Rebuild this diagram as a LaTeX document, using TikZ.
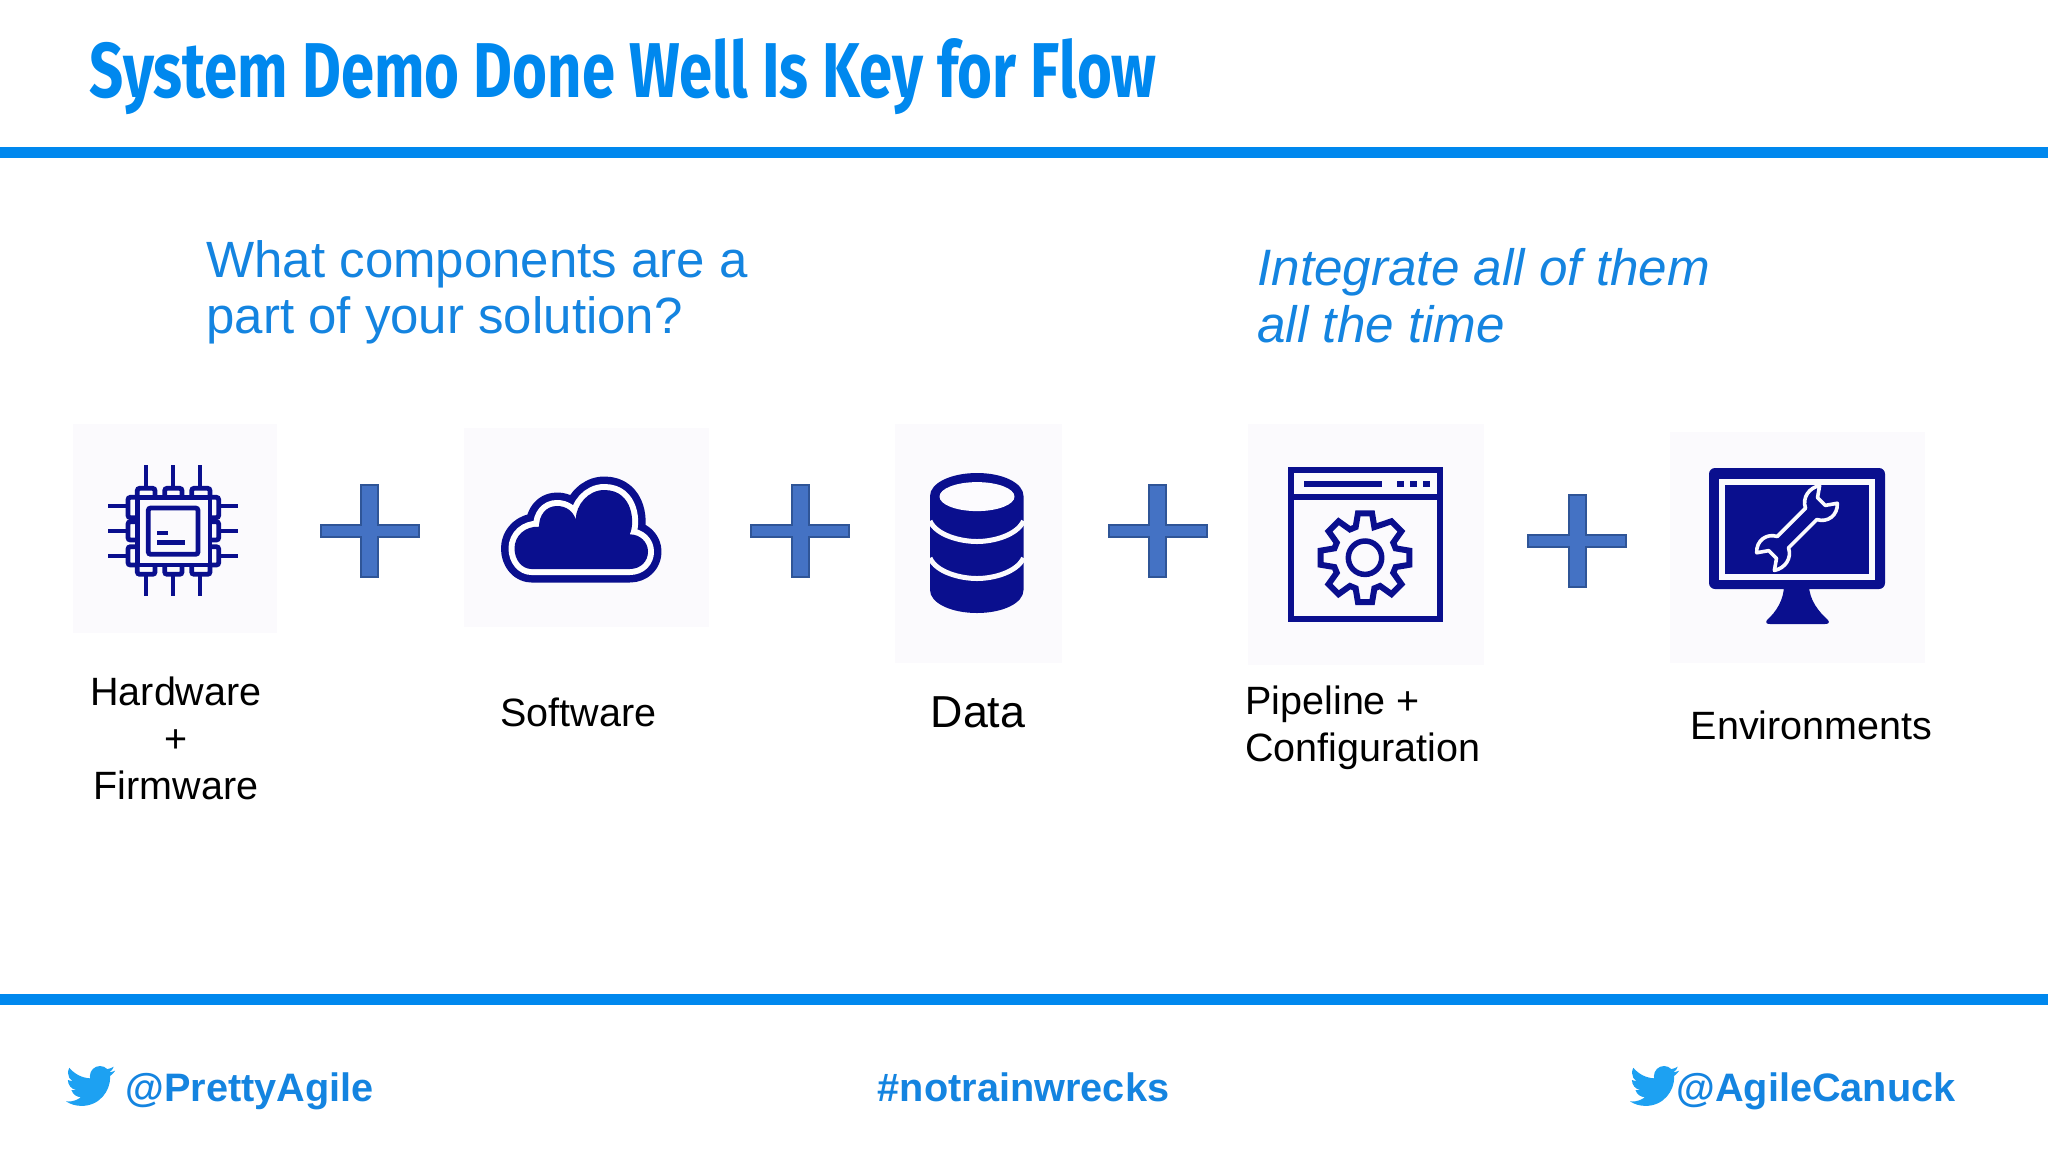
\documentclass[tikz,border=0pt]{standalone}
\usepackage{fontspec}
\setmainfont{Liberation Sans}
\newfontfamily\titlefont{Fira Sans}
\usetikzlibrary{calc}
\definecolor{barblue}{HTML}{0088EE}
\definecolor{textblue}{HTML}{1484E0}
\definecolor{navy}{HTML}{0A0F8E}
\definecolor{tilec}{HTML}{FBFAFD}
\definecolor{plusfill}{HTML}{4472C4}
\definecolor{plusline}{HTML}{2F5597}
\definecolor{birdc}{HTML}{1DA1F2}
\tikzset{
  x=0.5pt,y=-0.5pt,
  bar/.style={fill=barblue,draw=none},
  tile/.style={fill=tilec,draw=none},
  chipline/.style={draw=navy,line width=2.4pt,rounded corners=1.2pt},
  pin/.style={draw=navy,line width=2.4pt},
  toptext/.style={font=\fontsize{25.5}{28}\selectfont,text=textblue,anchor=base west,inner sep=0pt,align=left},
  ittext/.style={font=\fontsize{25.6}{28.5}\selectfont\itshape,text=textblue,anchor=base west,inner sep=0pt,align=left},
  lbl/.style={font=\fontsize{19.75}{23.5}\selectfont,text=black,anchor=base,inner sep=0pt,align=center},
  foot/.style={font=\fontsize{19.85}{24}\selectfont\bfseries,text=textblue,anchor=base west,inner sep=0pt},
  bird/.pic={
    \fill[birdc] (23.95,4.57) .. controls (23.05,4.97) and (22.1,5.23) .. (21.13,5.35)
      .. controls (22.15,4.73) and (22.92,3.77) .. (23.29,2.62)
      .. controls (22.34,3.18) and (21.29,3.58) .. (20.16,3.81)
      .. controls (19.26,2.86) and (17.98,2.28) .. (16.6,2.28)
      .. controls (13.87,2.28) and (11.66,4.49) .. (11.66,7.2)
      .. controls (11.66,7.59) and (11.7,7.95) .. (11.78,8.29)
      .. controls (7.69,8.095) and (4.067,6.13) .. (1.64,3.162)
      .. controls (1.22,3.88) and (0.974,4.73) .. (0.974,5.637)
      .. controls (0.974,7.347) and (1.844,8.85) .. (3.162,9.733)
      .. controls (2.35,9.71) and (1.6,9.48) .. (0.934,9.117)
      -- (0.934,9.177)
      .. controls (0.934,11.56) and (2.63,13.54) .. (4.88,14.0)
      .. controls (4.17,14.19) and (3.41,14.22) .. (2.668,14.085)
      .. controls (3.32,16.04) and (5.12,17.46) .. (7.272,17.502)
      .. controls (5.58,18.83) and (3.44,19.607) .. (1.17,19.607)
      .. controls (0.78,19.607) and (0.391,19.584) .. (0,19.54)
      .. controls (2.17,20.93) and (4.75,21.749) .. (7.557,21.749)
      .. controls (16.61,21.749) and (21.555,14.253) .. (21.555,7.764)
      .. controls (21.555,7.554) and (21.555,7.344) .. (21.54,7.134)
      .. controls (22.5,6.44) and (23.33,5.58) .. (24,4.59) -- cycle;
  },
  plusmark/.pic={
    \draw[fill=plusfill,draw=plusline,line width=1pt]
      (-8.5,-46) -- (8.5,-46) -- (8.5,-6) -- (49,-6) -- (49,6) -- (8.5,6)
      -- (8.5,46) -- (-8.5,46) -- (-8.5,6) -- (-49,6) -- (-49,-6) -- (-8.5,-6) -- cycle;
  }
}
\newcommand{\cloudpath}{(531.6,569) -- (629.6,569)
  .. controls (641,569) and (648,561) .. (648,551.7)
  .. controls (648,542) and (640,534.3) .. (629.6,534.3)
  .. controls (635,525) and (634,490) .. (604.3,490)
  .. controls (588,490) and (576,505) .. (575.7,519.3)
  .. controls (573,511) and (566,506) .. (557,506)
  .. controls (546,506) and (539,515) .. (539,526.7)
  .. controls (525,526) and (514.5,536) .. (514.5,548.3)
  .. controls (514.5,560) and (522,569) .. (531.6,569) -- cycle}
\begin{document}
\begin{tikzpicture}
\useasboundingbox (0,0) rectangle (2048,1152);
% bars
\fill[bar] (0,147) rectangle (2048,158);
\fill[bar] (0,994) rectangle (2048,1005);
% title
\node[anchor=base west,inner sep=0pt,text=barblue] (title) at (89,97)
  {\resizebox{533.5pt}{29.5pt}{\titlefont\fontseries{sb}\selectfont System Demo Done Well Is Key for Flow}};
% heading texts
\node[toptext] (question) at (206,333.5) {What components are a\\part of your solution?};
\node[ittext] (integrate) at (1257,342) {Integrate all of them\\all the time};
% tiles
\fill[tile] (73,424) rectangle (277,633);
\fill[tile] (464,428) rectangle (709,627);
\fill[tile] (895,424) rectangle (1062,663);
\fill[tile] (1248,424) rectangle (1484,665);
\fill[tile] (1670,432) rectangle (1925,663);
% chip
\foreach \v in {146,173,200}{
  \draw[pin] (\v,465) -- (\v,488);
  \draw[pin] (\v,574) -- (\v,596);
}
\foreach \v in {506,531,556}{
  \draw[pin] (108,\v) -- (128,\v);
  \draw[pin] (219,\v) -- (238,\v);
}
\foreach \a/\b in {137.3/155,164.7/182,191.7/210}{
  \draw[chipline] (\a,497.3) |- (\b,488.3) -- (\b,497.3);
  \draw[chipline] (\a,565) |- (\b,574.3) -- (\b,565);
}
\foreach \a/\b in {497.3/517.7,521.7/540,546.7/565}{
  \draw[chipline] (137.3,\a) -| (128,\b) -- (137.3,\b);
  \draw[chipline] (210,\a) -| (218.7,\b) -- (210,\b);
}
\draw[pin] (137.3,497.3) rectangle (210,565);
\draw[chipline] (148.3,508) rectangle (198,554.3);
\draw[pin] (157,533) -- (168,533);
\draw[pin] (157,542.3) -- (185,542.3);
% cloud
\draw[draw=navy,line width=13.5pt,line join=round] \cloudpath;
\draw[draw=white,line width=6pt,line join=round] \cloudpath;
\fill[navy] \cloudpath;
% database
\fill[navy] (930,496) .. controls (930,483) and (951,473) .. (977,473)
  .. controls (1003,473) and (1023.5,483) .. (1023.5,496) -- (1023.5,590)
  .. controls (1023.5,603) and (1003,613) .. (977,613)
  .. controls (951,613) and (930,603) .. (930,590) -- cycle;
\fill[tilec!70!white] (977,496.6) ellipse [x radius=37.5,y radius=14.5];
\draw[draw=tilec,line width=2.5pt]
  (930,521) .. controls (936,535) and (960,541.5) .. (977,541.5)
  .. controls (994,541.5) and (1017,535) .. (1023.5,521);
\draw[draw=tilec,line width=2.5pt]
  (930,558) .. controls (936,572) and (960,578.5) .. (977,578.5)
  .. controls (994,578.5) and (1017,572) .. (1023.5,558);
% window with gear
\draw[draw=navy,line width=3pt] (1291,470) rectangle (1440,619);
\draw[draw=navy,line width=3pt] (1291,497) -- (1440,497);
\fill[navy] (1304,481) rectangle (1382,487);
\foreach \a in {1397,1410,1423}{\fill[navy] (\a,481) rectangle +(7,6);}
\begin{scope}[shift={(1365,557.7)}]
  \draw[navy,line width=3pt,line join=miter]
    (-81:45) -- (-99:45)
    \foreach \t in {-135,-180,-225,-270,-315,-360,-405}{
      -- ({\t+45-17}:32) -- ({\t+17}:32) -- ({\t+9}:45) -- ({\t-9}:45)
    } -- (-73:32) -- cycle;
  \draw[navy,line width=2.75pt] (0,0) circle [radius=16.7];
\end{scope}
% monitor
\fill[navy,rounded corners=3pt] (1709,468) rectangle (1885,589);
\fill[navy] (1784,585) .. controls (1784,600) and (1776,612) .. (1767,620)
  .. controls (1765,623) and (1767,624) .. (1770,624) -- (1825,624)
  .. controls (1828,624) and (1830,623) .. (1828,620)
  .. controls (1819,612) and (1809,600) .. (1809,585) -- cycle;
\draw[draw=tilec,line width=3pt] (1722,482) rectangle (1872,576.5);
\begin{scope}[shift={(1797,528)},rotate=45]
  \draw[draw=tilec,line width=1.8pt,line join=round]
    (-20,-8) -- (20,-8) .. controls (25,-18) and (37,-20) .. (46,-14)
    -- (36,-7) -- (36,4) -- (46,11) .. controls (38,20) and (25,18) .. (20,8)
    -- (-20,8) .. controls (-25,18) and (-37,20) .. (-46,14)
    -- (-36,7) -- (-36,-4) -- (-46,-11) .. controls (-38,-20) and (-25,-18) .. (-20,-8) -- cycle;
\end{scope}
% plus signs
\pic at (369.5,531) {plusmark};
\pic at (800,531) {plusmark};
\pic at (1157.7,531) {plusmark};
\pic at (1577,541) {plusmark};
% labels
\node[lbl] (hardware) at (176,799) {Hardware\\+\\Firmware};
\node[lbl] (software) at (578.5,726) {Software};
\node[lbl,font=\fontsize{22.4}{26}\selectfont] (data) at (978,727.5) {Data};
\node[lbl,anchor=base west,align=left] (pipeline) at (1245,761) {Pipeline +\\Configuration};
\node[lbl] (environments) at (1811.5,739) {Environments};
% footer
\pic[scale=2.05] at (66,1061.3) {bird};
\pic[scale=2.05] at (1630,1061.3) {bird};
\node[foot] (prettyagile) at (125,1101) {@PrettyAgile};
\node[foot] (hash) at (877.5,1101) {\#notrainwrecks};
\node[foot] (canuck) at (1676,1101) {@AgileCanuck};
\end{tikzpicture}
\end{document}
